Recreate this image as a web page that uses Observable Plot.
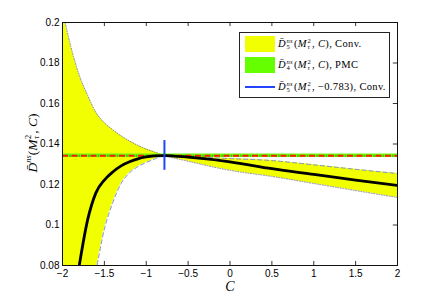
<!DOCTYPE html>
<html>
<head>
<meta charset="utf-8">
<script src="https://cdn.jsdelivr.net/npm/d3@7"></script>
<script src="https://cdn.jsdelivr.net/npm/@observablehq/plot@0.6"></script>
<style>
  html, body { margin: 0; padding: 0; background: #fff; }
  #wrap { position: relative; width: 439px; height: 299px; overflow: hidden; }
  #wrap svg { position: absolute; left: 0; top: 0; }
  .math { font-family: "Liberation Serif", "DejaVu Serif", serif; color: #000; white-space: nowrap; }
  .it { font-style: italic; }
  .ss { display: inline-flex; flex-direction: column; vertical-align: middle; font-size: 0.62em; line-height: 0.95; margin-left: 0.5px; margin-right: 1px; }
  #legend { position: absolute; left: 239px; top: 32px; width: 149px; height: 64px; border: 1px solid #222; background: #fff; box-sizing: content-box; }
  .row { position: absolute; left: 0; height: 18px; display: flex; align-items: center; font-size: 10.5px; letter-spacing: 0.35px; }
  .sw { position: absolute; left: 5px; width: 30px; }
  .lt { position: absolute; left: 38px; }
  #ylab { position: absolute; left: 33px; top: 143px; transform: translate(-50%, -50%) rotate(-90deg); font-size: 13.5px; }
  #xlab { position: absolute; left: 230px; top: 287px; transform: translate(-50%, -50%); font-size: 14px; }
</style>
</head>
<body>
<div id="wrap"></div>
<script>
// ---- data ----
const C = [-2, -1.9, -1.8, -1.7, -1.6, -1.5, -1.4, -1.3, -1.2, -1.1, -1.0, -0.9, -0.783, -0.5, 0, 0.5, 1, 1.5, 2];
// dotted boundary of the Conv. band (rises at left, lowest at right)
const bandDotted = [0.206, 0.188, 0.174, 0.164, 0.1555, 0.1505, 0.147, 0.144, 0.1415, 0.1393, 0.1375, 0.136, 0.1343, 0.1315, 0.127, 0.124, 0.1205, 0.117, 0.1136];
// dashed boundary of the Conv. band (falls at left, highest at right)
const bandDashed = [0.01, 0.03, 0.048, 0.064, 0.078, 0.098, 0.111, 0.1205, 0.1258, 0.1288, 0.1309, 0.1326, 0.1343, 0.1338, 0.1328, 0.1318, 0.1297, 0.1275, 0.1254];
// central conventional curve (black)
const centralC = [-1.8, -1.7, -1.6, -1.5, -1.4, -1.3, -1.2, -1.1, -1.0, -0.9, -0.783, -0.5, 0, 0.5, 1, 1.5, 2];
const centralD = [0.08, 0.1025, 0.116, 0.1222, 0.1262, 0.1292, 0.1312, 0.1327, 0.1336, 0.1341, 0.1343, 0.1335, 0.1312, 0.1278, 0.125, 0.1222, 0.1195];
// PMC value (horizontal band/line)
const pmcValue = 0.1342;
const pmcLow = 0.1333;
const pmcHigh = 0.1351;
// fixed-C conventional estimate with its error
const fixedC = -0.783;
const fixedLow = 0.127;
const fixedHigh = 0.1417;
// ticks
const xTicks = [-2, -1.5, -1, -0.5, 0, 0.5, 1, 1.5, 2];
const yTicks = [0.08, 0.1, 0.12, 0.14, 0.16, 0.18, 0.2];
const yTickLabels = ["0.08", "0.1", "0.12", "0.14", "0.16", "0.18", "0.2"];

// ---- build ----
const band = C.map((c, i) => ({C: c, dotted: bandDotted[i], dashed: bandDashed[i]}));
const central = centralC.map((c, i) => ({C: c, D: centralD[i]}));
const fmtX = d => (d < 0 ? "\u2212" + String(-d) : String(d));

const chart = Plot.plot({
  width: 439,
  height: 299,
  marginLeft: 62,
  marginRight: 42,
  marginTop: 22,
  marginBottom: 34,
  style: {fontFamily: "'Liberation Sans', Arial, sans-serif", fontSize: "10px", background: "white", color: "black"},
  x: {domain: [-2, 2]},
  y: {domain: [0.08, 0.2]},
  marks: [
    // inward ticks on all four sides
    Plot.ruleX(xTicks, {x: d => d, y1: 0.08, y2: 0.082, stroke: "black", strokeWidth: 0.8}),
    Plot.ruleX(xTicks, {x: d => d, y1: 0.2, y2: 0.198, stroke: "black", strokeWidth: 0.8}),
    Plot.ruleY(yTicks, {y: d => d, x1: -2, x2: -1.95, stroke: "black", strokeWidth: 0.8}),
    Plot.ruleY(yTicks, {y: d => d, x1: 2, x2: 1.95, stroke: "black", strokeWidth: 0.8}),
    // conventional band
    Plot.areaY(band, {x: "C", y1: "dashed", y2: "dotted", fill: "#f2ff00", curve: "monotone-x", clip: true}),
    Plot.line(band, {x: "C", y: "dotted", stroke: "#8a8a8a", strokeWidth: 1, strokeDasharray: "1,1.6", curve: "monotone-x", clip: true}),
    Plot.line(band, {x: "C", y: "dashed", stroke: "#8090d8", strokeWidth: 1, strokeDasharray: "4,3", curve: "monotone-x", clip: true}),
    // PMC band + red dashed line
    Plot.areaY([{x: -2}, {x: 2}], {x: "x", y1: () => pmcLow, y2: () => pmcHigh, fill: "#66ff00"}),
    Plot.ruleY([pmcValue], {stroke: "#33c400", strokeWidth: 2, strokeDasharray: "1.5,8", strokeDashoffset: -7.2}),
    Plot.ruleY([pmcValue], {stroke: "#ff1a00", strokeWidth: 2, strokeDasharray: "6,3.5"}),
    // central curve
    Plot.line(central, {x: "C", y: "D", stroke: "black", strokeWidth: 2.8, curve: "monotone-x", clip: true}),
    // fixed-C error bar
    Plot.ruleX([fixedC], {x: d => d, y1: fixedLow, y2: fixedHigh, stroke: "#2244ff", strokeWidth: 2}),
    // axes
    Plot.axisX(xTicks, {tickSize: 0, tickPadding: 4, tickFormat: fmtX, label: null}),
    Plot.axisY(yTicks, {tickSize: 0, tickPadding: 3, tickFormat: (d, i) => yTickLabels[i], label: null}),
    Plot.frame({stroke: "#111", strokeWidth: 1})
  ]
});

const wrap = document.getElementById("wrap");
wrap.appendChild(chart);

const Dbar = '<span class="it">D&#772;</span>';
const ss = (top, bot) => `<span class="ss"><span>${top}</span><span>${bot}</span></span>`;
const Mt = '<span class="it">M</span>' + ss('2', '<span class="it">&tau;</span>');

const legendRows = [
  {kind: "fill", color: "#f2ff00", html: `${Dbar}${ss('<span class="it">ns</span>', '5')}(${Mt}, <span class="it">C</span>), Conv.`},
  {kind: "fill", color: "#66ff00", html: `${Dbar}${ss('<span class="it">ns</span>', '4')}(${Mt}, <span class="it">C</span>), PMC`},
  {kind: "line", color: "#2244ff", html: `${Dbar}${ss('<span class="it">ns</span>', '5')}(${Mt}, &minus;0.783), Conv.`}
];
const legend = document.createElement("div");
legend.id = "legend";
const rowTops = [2, 23, 45];
legendRows.forEach((r, i) => {
  const row = document.createElement("div");
  row.className = "row math";
  row.style.top = rowTops[i] + "px";
  row.style.width = "149px";
  const sw = document.createElement("div");
  sw.className = "sw";
  if (r.kind === "fill") {
    sw.style.top = "1px"; sw.style.height = "16px"; sw.style.background = r.color;
  } else {
    sw.style.top = "8px"; sw.style.height = "2px"; sw.style.background = r.color;
  }
  row.appendChild(sw);
  const t = document.createElement("span");
  t.className = "lt";
  t.innerHTML = r.html;
  row.appendChild(t);
  legend.appendChild(row);
});
wrap.appendChild(legend);

const ylab = document.createElement("div");
ylab.id = "ylab";
ylab.className = "math";
ylab.innerHTML = `${Dbar}<sup style="font-size:0.62em" class="it">ns</sup>(${Mt}, <span class="it">C</span>)`;
wrap.appendChild(ylab);

const xlab = document.createElement("div");
xlab.id = "xlab";
xlab.className = "math it";
xlab.textContent = "C";
wrap.appendChild(xlab);
</script>
</body>
</html>
